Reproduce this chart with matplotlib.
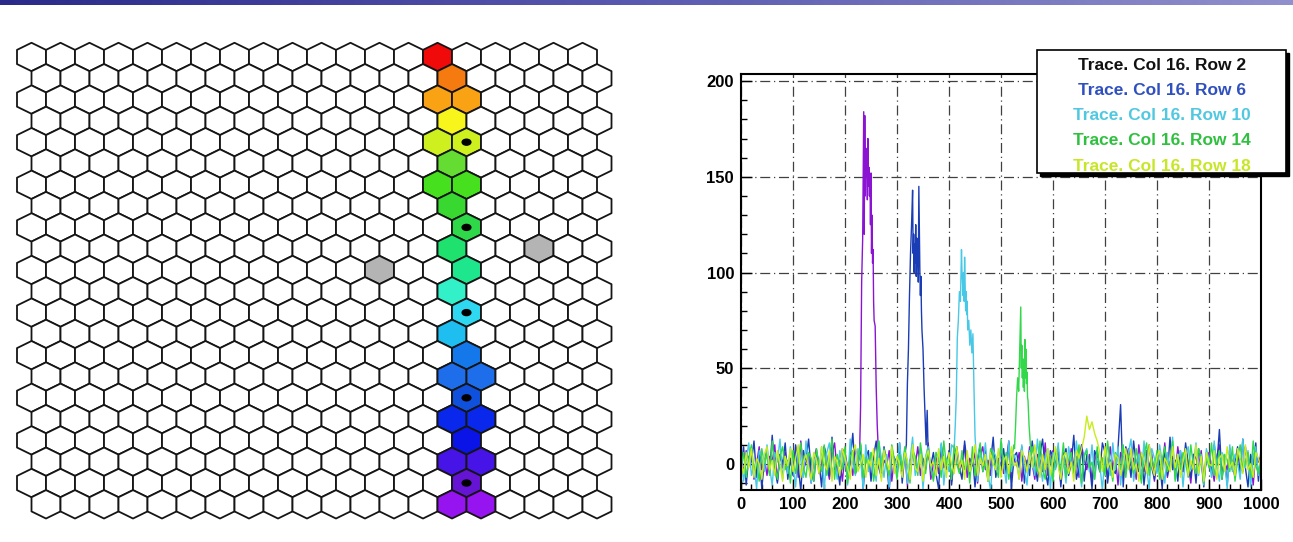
import numpy as np
import matplotlib.pyplot as plt
from matplotlib.collections import PolyCollection
from matplotlib.patches import Ellipse, Rectangle
from matplotlib.colors import LinearSegmentedColormap

W, H = 1293, 542
plt.rcParams['font.family'] = ['Liberation Sans', 'DejaVu Sans']

# ---- hex map data ----
n_rows, n_cols = 22, 20
lit_rows = [0, 1, 2, 2, 3, 4, 4, 5, 6, 6, 7, 8, 9, 10, 11, 12, 13, 14,
            15, 15, 16, 17, 17, 18, 19, 19, 20, 21, 21]
lit_cols = [14, 14, 14, 15, 14, 14, 15, 14, 14, 15, 14, 15, 14, 15, 14, 15, 14, 15,
            14, 15, 15, 14, 15, 15, 14, 15, 15, 14, 15]
row_colors = ['#f00a0a', '#f57a10', '#f9a314', '#f8f51c', '#cdf01e', '#64dc32',
              '#46e01e', '#38d830', '#2ed848', '#1ee16e', '#1ee68c', '#32f0c8',
              '#2ed8f0', '#1ebef0', '#1478eb', '#1e6eeb', '#0f50dc', '#0a28eb',
              '#0a14e6', '#4614e6', '#6414d2', '#9614f0']
dead_rows = [9, 10]
dead_cols = [17, 12]
dot_rows = [4, 8, 12, 16, 20]
dot_col = 15

# ---- traces ----
labels = ['Trace. Col 16. Row 2', 'Trace. Col 16. Row 6', 'Trace. Col 16. Row 10',
          'Trace. Col 16. Row 14', 'Trace. Col 16. Row 18']
trace_colors = ['#8a14d2', '#1a3cb4', '#46c8e6', '#32d84a', '#c8ec1e']
legend_colors = ['#111111', '#3050c0', '#50c8e0', '#30c040', '#c8e628']

noise_row2 = [
    2, -4, 7, -1, 5, -8, 0, 9, -3, 3, -6, 4, 1, 10, -9, 5, -2, 6, -5, 1,
    -2, 7, -7, 12, -3, 1, 4, -10, 3, 8, -5, 0, 9, -1, -8, 5, 11, -4, 2, -9,
    6, -2, 3, -6, 8, 1, -12, 5, -3, 9, 0, -7, 4, 10, -5, 2, -1, 7, -9, 3,
    1, 8, -4, 6, -11, 2, 5, -1, 9, -6, 3, -3, 11, -8, 0, 4, -5, 7, -2, 1,
    5, -9, 2, 8, -4, 0, 10, -7, 3, -1, 6, -10, 4, 9, -3, 2, -6, 7, 0, -2,
    8, -5, 1, 12, -7, 3, -1, 6, -9, 4, -3, 9, 0, -8, 5, 2, -4, 11, -6, 1,
    7, -2, 3, -10, 6, 0, -5, 8, -1, 4, -7, 10, 2, -3, 5, -9, 1, 7, -4, 3,
    0, -6, 9, -2, 4, -11, 6, 1, -5, 8, -1, 3, -8, 10, 0, -4, 7, -2, 5, -9,
    2, 6, -3, 11, -7, 1, 4, -6, 9, -1, -4, 8, 0, -10, 5, 3, -2, 7, -8, 2,
    6, -1, -9, 4, 10, -5, 1, -3, 8, 0, -7, 5, 2, -4, 9, -2, 3, -11, 6, 1, 4]
noise_row6 = [
    -3, 9, -11, 4, 1, 12, -7, 6, -13, 2, 8, -5, 15, -2, -10, 5, 0, 11, -8, 3,
    -6, 10, -1, -14, 7, 2, 13, -4, -9, 6, 1, -12, 9, 4, -6, 14, -3, 0, -11, 8,
    5, -8, 2, 16, -5, -1, 10, -13, 3, 7, -9, 4, 12, -2, -7, 9, 1, -14, 6, 3,
    -4, 11, -10, 5, 0, 18, -6, 2, -12, 8, 3, -9, 13, -1, 6, -5, -13, 10, 2, -3,
    7, -11, 4, 9, -2, -8, 12, 0, -6, 5, -12, 2, 10, -4, 7, -9, 1, 14, -7, 3,
    -1, 8, -5, 11, -13, 4, 6, -2, 9, -10, 2, -6, 12, 0, -9, 5, 13, -3, -11, 7,
    4, -1, 9, -12, 3, 8, -6, 0, 15, -8, -2, 10, -9, 5, 1, -13, 7, 3, -4, 11,
    6, -10, 2, -3, -5, 8, 31, -12, 9, 4, -7, 12, 0, -4, 6, -11, 3, 10, -2, -8,
    5, 1, -13, 9, -6, 14, -3, 2, -9, 7, -4, 11, 0, -7, 5, -10, 8, 2, -12, 6,
    3, -5, 10, -1, 18, -8, 4, -11, 7, -3, 1, 9, -6, 13, -2, -12, 5, 0, 11, -9, 8]
noise_row10 = [
    5, -9, 2, 11, -6, 0, -13, 7, 3, -4, 10, -2, -11, 6, 1, 13, -8, 4, -5, 9,
    -1, -12, 8, 2, -7, 12, 0, -10, 5, 3, -3, 9, -14, 6, 11, -5, 1, -8, 7, -2,
    4, -11, 13, 0, -6, 8, 2, -13, 10, -4, 6, -1, -9, 12, 3, -7, 5, -12, 9, 1,
    -5, 11, -3, 7, -10, 2, 14, -6, 0, 8, -13, 4, 9, -2, -8, 6, 1, 11, -11, 3,
    -4, 10, -7, 5, 0, -12, 8, 3, -6, 13, 2, -9, 6, -1, 11, -5, -14, 7, 4, -3,
    9, 0, -10, 12, -4, 5, 1, -8, 10, -2, -11, 7, 3, -6, 13, 0, -9, 4, 8, -13,
    6, -3, 11, -7, 2, -10, 9, 1, -5, 12, -1, -12, 5, 8, -4, 10, -8, 3, 0, -14,
    7, 2, -6, 11, -3, 9, -11, 4, -1, 6, 13, -9, 0, 5, -7, 12, -2, -13, 8, 3,
    -5, 10, 1, -10, 6, -4, 14, -8, 2, 7, -12, 4, 9, -3, 0, 11, -6, 5, -11, 8,
    2, -7, 12, -1, -9, 6, 3, -13, 10, -4, 5, 1, -8, 13, -2, 7, -12, 4, 9, -6, 2]
noise_row14 = [
    -2, 6, -7, 3, 10, -4, 1, -9, 8, 0, 5, -6, 12, -1, -8, 4, 9, -3, 2, -10,
    7, -5, 1, 11, -2, -7, 6, 3, -9, 8, 0, -4, 10, -6, 2, 13, -8, 5, -1, -3,
    9, -10, 4, 7, -5, 0, 11, -7, 3, -2, 6, -9, 1, 12, -4, 8, -1, -6, 10, 2,
    -8, 5, -3, 9, 0, -10, 7, 4, -6, 11, 1, -5, 8, -2, -9, 6, 3, -7, 12, -1,
    4, -8, 10, 0, -5, 7, -3, 2, -10, 9, -6, 3, 11, -4, 1, -9, 8, 5, -2, -7,
    13, -1, 6, -8, 2, 10, -5, 0, -10, 7, 3, -6, 9, 1, -4, 12, -2, -8, 5, 4,
    -9, 8, 0, -3, 11, -7, 2, 6, -5, -1, 10, -10, 4, 7, -2, 1, -8, 9, -4, 3,
    -6, 12, 0, -9, 6, 2, -3, 10, -7, 5, 1, -5, 8, -1, -10, 4, 11, -6, 3, -2,
    7, -8, 2, 9, -4, 0, 12, -9, 5, -3, 6, 1, -7, 10, -1, -5, 8, 3, -10, 4,
    -2, 11, -6, 0, 7, -8, 5, 2, -4, 9, -9, 3, 10, -3, 1, 6, -7, 12, -1, -5, 4]
noise_row18 = [
    1, -5, 6, -2, 8, -7, 3, 0, -8, 5, 9, -3, 2, -6, 7, 0, -9, 4, -1, 8,
    -4, 3, 10, -7, 1, 5, -2, -8, 6, 2, -5, 9, 0, -3, 7, -9, 4, 1, -6, 8,
    3, -2, -8, 6, 10, -4, 0, 5, -7, 2, -1, 8, -6, 3, -9, 7, 1, -3, 9, -5,
    4, 0, -7, 6, 2, -8, 10, -2, -4, 5, -9, 3, 7, -1, 1, -6, 8, -3, 4, -7,
    6, 0, -5, 9, -2, 2, -8, 7, -4, 1, 10, -6, 3, -1, 5, -9, 6, 0, -3, 8,
    -7, 2, 4, -5, 9, -1, 1, -8, 7, 3, -4, 6, -2, 10, 0, -7, 5, -3, 8, -6,
    2, 9, -1, -8, 4, 6, -5, 1, -9, 7, 3, 8, 14, 25, 18, 22, 16, 12, 6, -4,
    9, -2, 1, -7, 5, 3, -6, 0, 8, -3, 8, -3, 0, -9, 6, 2, -5, 10, -1, -6,
    4, 7, -8, 3, 0, -4, 9, -2, 5, -7, 1, 8, -6, 2, -3, 10, -5, 4, -9, 6,
    0, -1, 7, -8, 3, 5, -4, 9, -2, 1, -6, 8, 2, -5, 10, -3, 0, -7, 6, 3, -2]

peak_x_row2 = [228, 230, 232, 234, 236, 237, 238, 239, 240, 241, 242, 243, 244, 245,
               246, 247, 248, 249, 250, 251, 252, 253, 254, 255, 256, 258, 260, 262, 264]
peak_y_row2 = [5, 30, 95, 118, 184, 120, 182, 140, 165, 150, 160, 138, 170, 145,
               155, 140, 150, 125, 152, 110, 130, 105, 112, 85, 75, 72, 40, 20, 8]
peak_x_row6 = [318, 320, 322, 324, 326, 328, 330, 331, 332, 333, 334, 335, 336, 337,
               338, 339, 340, 341, 342, 343, 344, 345, 346, 347, 348, 350, 352, 354,
               356, 358, 360]
peak_y_row6 = [10, 42, 60, 88, 110, 125, 143, 110, 120, 100, 115, 105, 125, 98,
               118, 105, 112, 95, 145, 120, 100, 88, 98, 80, 70, 60, 40, 25,
               10, 28, 5]
peak_x_row10 = [410, 412, 414, 416, 418, 420, 422, 424, 425, 426, 427, 428, 429, 430,
                431, 432, 433, 434, 435, 436, 438, 440, 442, 444, 446, 448, 450, 452]
peak_y_row10 = [8, 20, 35, 66, 75, 90, 85, 112, 100, 95, 88, 100, 85, 108,
                95, 80, 90, 78, 85, 70, 75, 62, 70, 58, 68, 40, 15, 5]
peak_x_row14 = [526, 528, 530, 532, 534, 536, 538, 539, 540, 541, 542, 543, 544, 545,
                546, 547, 548, 549, 550, 551, 552, 554, 556, 558]
peak_y_row14 = [8, 20, 35, 45, 38, 60, 82, 50, 62, 45, 55, 40, 50, 38,
                65, 45, 60, 42, 48, 35, 33, 20, 12, 5]

noises = [noise_row2, noise_row6, noise_row10, noise_row14, noise_row18]
peaks = [(peak_x_row2, peak_y_row2), (peak_x_row6, peak_y_row6),
         (peak_x_row10, peak_y_row10), (peak_x_row14, peak_y_row14), None]


def hex_verts(r, c):
    cx = c + 0.5 * (r % 2)
    cy = -r
    return [(cx, cy + 2 / 3), (cx + 0.5, cy + 1 / 3), (cx + 0.5, cy - 1 / 3),
            (cx, cy - 2 / 3), (cx - 0.5, cy - 1 / 3), (cx - 0.5, cy + 1 / 3)]


def px_rect(x0, y0, x1, y1):
    # pixel box (top-left origin) -> figure fraction rect
    return [x0 / W, 1 - y1 / H, (x1 - x0) / W, (y1 - y0) / H]


fig = plt.figure(figsize=(W / 100, H / 100), dpi=100)

# header stripe
ax_top = fig.add_axes(px_rect(0, 0, W, 5))
cmap = LinearSegmentedColormap.from_list('hdr', ['#2a2a8a', '#5a5ab0', '#9090cc'])
ax_top.imshow(np.linspace(0, 1, 256)[None, :], aspect='auto', cmap=cmap)
ax_top.axis('off')

# ---- left: hex map ----
ax1 = fig.add_axes(px_rect(14.1, 41.0, 614.4, 520.3))
lit = {(r, c): row_colors[r] for r, c in zip(lit_rows, lit_cols)}
for r, c in zip(dead_rows, dead_cols):
    lit[(r, c)] = '#b4b4b4'
verts, faces = [], []
for r in range(n_rows):
    for c in range(n_cols):
        verts.append(hex_verts(r, c))
        faces.append(lit.get((r, c), 'white'))
ax1.add_collection(PolyCollection(verts, facecolors=faces, edgecolors='#151515',
                                  linewidths=1.3))
for r in dot_rows:
    ax1.add_patch(Ellipse((dot_col + 0.5 * (r % 2), -r), 0.3, 0.28, color='black'))
ax1.set_xlim(-0.6, 20.1)
ax1.set_ylim(-21.75, 0.75)
ax1.axis('off')

# ---- right: traces ----
ax2 = fig.add_axes(px_rect(741, 74, 1261, 490))
for noise, pk, col in zip(noises, peaks, trace_colors):
    xs = list(np.arange(len(noise)) * 5)
    ys = list(noise)
    if pk is not None:
        keep = [i for i, x in enumerate(xs) if x < pk[0][0] or x > pk[0][-1]]
        xs = [xs[i] for i in keep] + list(pk[0])
        ys = [ys[i] for i in keep] + list(pk[1])
        order = np.argsort(xs)
        xs = np.array(xs)[order]
        ys = np.array(ys)[order]
    ax2.plot(xs, ys, color=col, linewidth=1.0)

ax2.set_xlim(0, 1000)
ax2.set_ylim(-13.6, 203.7)
ax2.set_xticks(range(0, 1001, 100))
ax2.set_yticks([0, 50, 100, 150, 200])
ax2.set_xticks(range(0, 1001, 20), minor=True)
ax2.set_yticks(range(-10, 201, 10), minor=True)
ax2.grid(True, which='major', color='#404040', linestyle=(0, (8, 3, 1, 3)), linewidth=0.9)
ax2.tick_params(which='both', direction='in', top=False, right=False, labelsize=12, pad=5)
ax2.tick_params(which='major', length=8, width=1)
ax2.tick_params(which='minor', length=4, width=1)
for lab in ax2.get_xticklabels() + ax2.get_yticklabels():
    lab.set_fontweight('bold')
for sp in ax2.spines.values():
    sp.set_linewidth(1.5)

# legend box with shadow
lx0, ly0, lx1, ly1 = 1037, 50, 1286, 173
shadow = Rectangle(((lx0 + 3) / W, 1 - (ly1 + 3) / H),
                   (lx1 - lx0) / W, (ly1 - ly0) / H, transform=fig.transFigure,
                   facecolor='black', edgecolor='black')
box = Rectangle((lx0 / W, 1 - ly1 / H), (lx1 - lx0) / W, (ly1 - ly0) / H,
                transform=fig.transFigure, facecolor='white', edgecolor='black',
                linewidth=1.2)
fig.patches.extend([shadow, box])
for i, (txt, col) in enumerate(zip(labels, legend_colors)):
    t = fig.text(1162 / W, 1 - (65 + 25.3 * i) / H, txt, color=col, fontsize=12.5,
                 fontweight='bold', ha='center', va='center')
    t.set_clip_path(box)

fig.savefig('out.png', dpi=100)
